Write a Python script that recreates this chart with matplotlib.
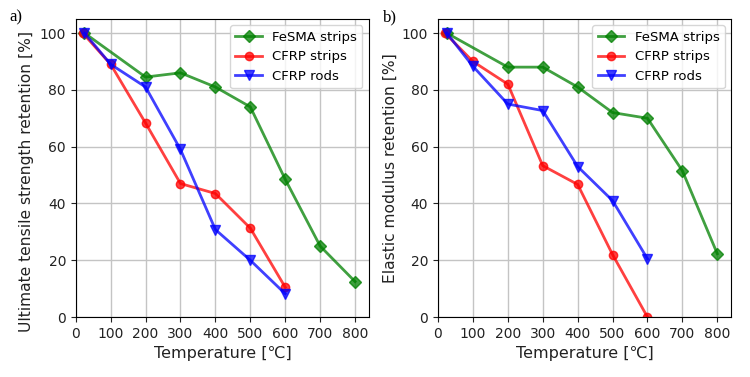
import matplotlib.pyplot as plt

# panel a) ultimate tensile strength retention [%]
fesma_t = [25, 200, 300, 400, 500, 600, 700, 800]
cfrp_strip_t = [20, 100, 200, 300, 400, 500, 600]
cfrp_rod_t = [25, 100, 200, 300, 400, 500, 600]

uts_fesma = [100, 84.5, 86, 81, 74, 48.5, 25, 12.5]
uts_strip = [100, 89, 68.3, 47, 43.5, 31.3, 10.5]
uts_rod = [100, 89, 81, 59, 30.8, 20, 8.2]

# panel b) elastic modulus retention [%]
em_fesma = [100, 88, 88, 81, 72, 70, 51.5, 22.3]
em_strip = [100, 90, 82, 53.3, 46.7, 22, 0]
em_rod = [100, 88.3, 75, 72.7, 53, 41, 20.5]

xticks = [0, 100, 200, 300, 400, 500, 600, 700, 800]
yticks = [0, 20, 40, 60, 80, 100]

fig = plt.figure(figsize=(7.5, 3.77), dpi=100)
ax1 = fig.add_axes([0.101, 0.159, 0.391, 0.791])
ax2 = fig.add_axes([0.584, 0.159, 0.391, 0.791])

panels = [
    (ax1, uts_fesma, uts_strip, uts_rod, "Ultimate tensile strength retention [%]", "a)", 0.013, -0.143, 0.453),
    (ax2, em_fesma, em_strip, em_rod, "Elastic modulus retention [%]", "b)", 0.51, -0.137, 0.5),
]

for ax, fe, st, rd, ylab, tag, tx, lx, ly in panels:
    ax.plot(fesma_t, fe, color="green", alpha=0.75, lw=2, marker="D", ms=6, label="FeSMA strips")
    ax.plot(cfrp_strip_t, st, color="red", alpha=0.75, lw=2, marker="o", ms=6, label="CFRP strips")
    ax.plot(cfrp_rod_t, rd, color="blue", alpha=0.75, lw=2, marker="v", ms=7, label="CFRP rods")
    ax.set_xlim(0, 840)
    ax.set_ylim(0, 105)
    ax.set_xticks(xticks)
    ax.set_yticks(yticks)
    ax.grid(True, color="#c4c4c4", lw=1)
    ax.set_axisbelow(True)
    ax.tick_params(labelsize=10, colors="#222222")
    ax.set_xlabel("Temperature [℃]", fontsize=11.5, color="#222222")
    ax.set_ylabel(ylab, fontsize=11.2, color="#222222")
    ax.yaxis.set_label_coords(lx, ly)
    ax.legend(loc="upper right", fontsize=9.5)
    fig.text(tx, 0.955, tag, fontsize=12, family="Liberation Serif", va="center")

plt.savefig("out.png")
